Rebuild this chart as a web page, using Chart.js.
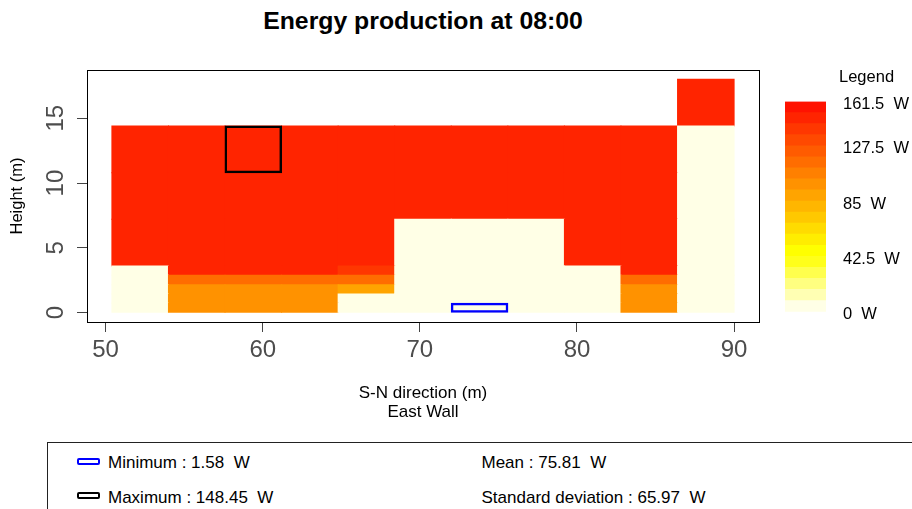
<!DOCTYPE html>
<html>
<head>
<meta charset="utf-8">
<script src="https://cdn.jsdelivr.net/npm/chart.js@4.4.1/dist/chart.umd.min.js"></script>
<style>
html,body{margin:0;padding:0;background:#fff;width:912px;height:509px;overflow:hidden;font-family:"Liberation Sans",Arial,sans-serif;}
#main{position:absolute;left:0;top:0;}
#leg{position:absolute;left:780px;top:0;}
.t{position:absolute;white-space:pre;color:#000;}
.icon{position:absolute;box-sizing:border-box;width:23px;height:7px;border-radius:2px;}
</style>
</head>
<body>
<div class="t" id="title" style="left:0;width:846px;text-align:center;top:8.5px;font-weight:bold;font-size:24.8px;line-height:24px;">Energy production at 08:00</div>
<canvas id="main" width="780" height="430"></canvas>
<canvas id="leg" width="132" height="340"></canvas>
<div class="t" style="left:839px;top:67.5px;font-size:16.5px;line-height:17px;">Legend</div>
<div id="stats" style="position:absolute;left:47px;top:442px;width:900px;height:100px;border:1px solid #222;"></div>
<script>
// ---- data ----
const colEdges = [50.4, 54, 57.6, 61.2, 64.8, 68.4, 72, 75.6, 79.2, 82.8, 86.4, 90];
const rowEdges = [0, 0.72, 1.44, 2.16, 2.88, 3.6, 7.2, 10.8, 14.4, 18];
// energy (W) per cell, one array per height band (bottom to top), one value per S-N column; null = no cell
const energyRow0 = [3.1, 98.2, 98.6, 98.4, 2.4, 1.9, 1.58, 2.0, 2.6, 97.5, 2.9];
const energyRow1 = [3.4, 99.0, 99.5, 99.2, 2.8, 2.2, 1.9, 2.3, 2.9, 98.6, 3.2];
const energyRow2 = [3.7, 100.8, 101.2, 100.9, 89.3, 2.5, 2.2, 2.6, 3.2, 100.1, 3.5];
const energyRow3 = [3.9, 114.6, 115.3, 115.0, 114.2, 2.8, 2.5, 2.9, 3.5, 113.8, 3.8];
const energyRow4 = [4.2, 146.1, 146.5, 146.3, 139.8, 3.0, 2.7, 3.1, 3.7, 145.9, 4.0];
const energyRow5 = [147.2, 147.6, 147.9, 147.7, 147.5, 3.4, 3.1, 3.5, 147.0, 147.3, 4.5];
const energyRow6 = [147.8, 148.1, 148.3, 148.2, 148.0, 147.6, 147.4, 147.7, 147.9, 147.8, 5.0];
const energyRow7 = [148.0, 148.3, 148.45, 148.4, 148.2, 148.0, 147.9, 148.1, 148.2, 148.1, 5.6];
const energyRow8 = [null, null, null, null, null, null, null, null, null, null, 146.8];
const energyRows = [energyRow0, energyRow1, energyRow2, energyRow3, energyRow4, energyRow5, energyRow6, energyRow7, energyRow8];

const xTicks = [50, 60, 70, 80, 90];
const yTicks = [0, 5, 10, 15];
const legendBreaks = [0, 8.5, 17, 25.5, 34, 42.5, 51, 59.5, 68, 76.5, 85, 93.5, 102, 110.5, 119, 127.5, 136, 144.5, 153, 161.5, 170];
const heatPalette = ['#FFFFE6', '#FFFFB3', '#FFFF80', '#FFFF4D', '#FFFF1A', '#FFFF00', '#FFED00', '#FFDB00', '#FFC800', '#FFB600',
                     '#FFA400', '#FF9200', '#FF8000', '#FF6D00', '#FF5B00', '#FF4900', '#FF3700', '#FF2400', '#FF1200', '#FF0000'];
const legendTicks = [0, 42.5, 85, 127.5, 161.5];
const statsLeft = ['Minimum : 1.58  W', 'Maximum : 148.45  W'];
const statsRight = ['Mean : 75.81  W', 'Standard deviation : 65.97  W'];
const statsIconColors = ['#0000FF', '#000000'];

// ---- helpers ----
const FONT = '"Liberation Sans", Arial, sans-serif';
function colorFor(v) {
  for (let i = 0; i < heatPalette.length; i++) {
    if (v < legendBreaks[i + 1]) return heatPalette[i];
  }
  return heatPalette[heatPalette.length - 1];
}
const xPad = (colEdges[colEdges.length - 1] - colEdges[0]) * 0.04;
const yPad = (rowEdges[rowEdges.length - 1] - rowEdges[0]) * 0.04;
const xMin = colEdges[0] - xPad, xMax = colEdges[colEdges.length - 1] + xPad;
const yMin = rowEdges[0] - yPad, yMax = rowEdges[rowEdges.length - 1] + yPad;

let minCell = null, maxCell = null;
const cellDatasets = energyRows.map((row, r) => {
  const pts = [];
  row.forEach((v, c) => {
    if (v === null) return;
    const p = { x: (colEdges[c] + colEdges[c + 1]) / 2, y: [rowEdges[r], rowEdges[r + 1]], v: v };
    pts.push(p);
    if (!minCell || v < minCell.v) minCell = p;
    if (!maxCell || v > maxCell.v) maxCell = p;
  });
  return {
    label: 'h' + r,
    data: pts,
    backgroundColor: pts.map(p => colorFor(p.v)),
    borderWidth: 0,
    inflateAmount: 0.5,
    order: 1
  };
});
function outline(cell, color, label) {
  return {
    label: label,
    data: [{ x: cell.x, y: cell.y }],
    backgroundColor: 'rgba(0,0,0,0)',
    borderColor: color,
    borderWidth: 1.5,
    borderSkipped: false,
    inflateAmount: 0.5,
    order: 0
  };
}

const framePlugin = {
  id: 'frame',
  afterDraw(chart) {
    const a = chart.chartArea, ctx = chart.ctx;
    ctx.save();
    ctx.strokeStyle = '#000';
    ctx.lineWidth = 1;
    ctx.strokeRect(a.left + 0.5, a.top + 0.5, a.right - a.left, a.bottom - a.top);
    ctx.restore();
  }
};

new Chart(document.getElementById('main'), {
  type: 'bar',
  data: {
    datasets: [outline(minCell, '#0000FF', 'Minimum'), outline(maxCell, '#000000', 'Maximum')].concat(cellDatasets)
  },
  options: {
    responsive: false,
    animation: false,
    layout: { padding: { left: 0, right: 21, top: 70, bottom: 8 } },
    plugins: { legend: { display: false }, tooltip: { enabled: false }, title: { display: false } },
    datasets: { bar: { grouped: false, barPercentage: 1, categoryPercentage: 1 } },
    scales: {
      x: {
        type: 'linear', min: xMin, max: xMax, offset: false,
        afterBuildTicks: s => { s.ticks = xTicks.map(v => ({ value: v })); },
        afterFit: s => { s.height = 100; },
        grid: { display: true, drawOnChartArea: false, drawTicks: true, tickLength: 10, color: '#444', offset: false },
        border: { display: true, color: '#000', width: 1 },
        ticks: { font: { family: FONT, size: 24, lineHeight: 1.2 }, color: '#4D4D4D', padding: 4, minRotation: 0, maxRotation: 0, autoSkip: false },
        title: { display: true, text: ['S-N direction (m)', 'East Wall'], color: '#000', font: { family: FONT, size: 17, lineHeight: 1.135 }, padding: { top: 0, bottom: 0 } }
      },
      y: {
        type: 'linear', min: yMin, max: yMax, beginAtZero: false,
        afterBuildTicks: s => { s.ticks = yTicks.map(v => ({ value: v })); },
        afterFit: s => { s.width = 87; },
        grid: { display: true, drawOnChartArea: false, drawTicks: true, tickLength: 10, color: '#444' },
        border: { display: true, color: '#000', width: 1 },
        ticks: { font: { family: FONT, size: 24, lineHeight: 1.2 }, color: '#4D4D4D', padding: 7.6, minRotation: 90, maxRotation: 90, crossAlign: 'center', autoSkip: false },
        title: { display: true, text: 'Height (m)', color: '#000', font: { family: FONT, size: 16.5, lineHeight: 1.2 }, padding: { top: 7.8, bottom: 0 } }
      }
    }
  },
  plugins: [framePlugin]
});

// colour legend
new Chart(document.getElementById('leg'), {
  type: 'bar',
  data: {
    labels: ['Legend'],
    datasets: heatPalette.map((c, i) => ({
      label: String(legendBreaks[i]),
      data: [[legendBreaks[i], legendBreaks[i + 1]]],
      backgroundColor: c,
      borderWidth: 0,
      inflateAmount: 0.5
    }))
  },
  options: {
    responsive: false,
    animation: false,
    layout: { padding: { left: 5, right: 0, top: 101.7, bottom: 28.3 } },
    plugins: { legend: { display: false }, tooltip: { enabled: false } },
    datasets: { bar: { grouped: false, barPercentage: 1, categoryPercentage: 1 } },
    scales: {
      x: { display: false },
      y: {
        position: 'right', min: legendTicks[0], max: legendTicks[legendTicks.length - 1],
        afterBuildTicks: s => { s.ticks = legendTicks.map(v => ({ value: v })); },
        afterFit: s => { s.width = 86; },
        grid: { display: false, drawTicks: false },
        border: { display: false },
        ticks: { font: { family: FONT, size: 16.5 }, color: '#000', padding: 17, labelOffset: 3, callback: v => v + '  W' }
      }
    }
  }
});

// statistics box
const stats = document.getElementById('stats');
const rowTops = [453.7 - 443, 488.5 - 443];
statsLeft.forEach((txt, i) => {
  const ic = document.createElement('div');
  ic.className = 'icon';
  ic.style.left = (77 - 48) + 'px';
  ic.style.top = (rowTops[i] + 3.8) + 'px';
  ic.style.border = '2.5px solid ' + statsIconColors[i];
  stats.appendChild(ic);
  const d = document.createElement('div');
  d.className = 't';
  d.style.cssText += 'left:' + (108 - 48) + 'px;top:' + rowTops[i] + 'px;font-size:17px;line-height:17px;';
  d.textContent = txt;
  stats.appendChild(d);
});
statsRight.forEach((txt, i) => {
  const d = document.createElement('div');
  d.className = 't';
  d.style.cssText += 'left:' + (481.5 - 48) + 'px;top:' + rowTops[i] + 'px;font-size:17px;line-height:17px;';
  d.textContent = txt;
  stats.appendChild(d);
});
</script>
</body>
</html>
